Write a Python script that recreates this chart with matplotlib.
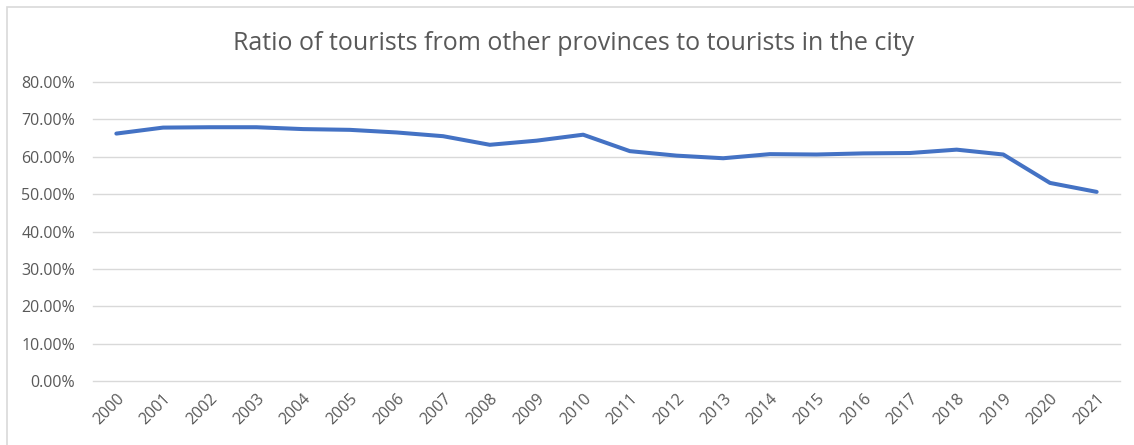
import matplotlib.pyplot as plt
from matplotlib.patches import Rectangle
from matplotlib.ticker import FuncFormatter

years = [str(y) for y in range(2000, 2022)]
ratio = [66.2, 67.8, 67.9, 67.9, 67.4, 67.2, 66.5, 65.5, 63.2, 64.3, 65.9,
         61.5, 60.3, 59.6, 60.7, 60.6, 60.9, 61.0, 61.9, 60.6, 53.0, 50.6]
y_ticks = [0, 10, 20, 30, 40, 50, 60, 70, 80]

W, H = 1134, 445
fig = plt.figure(figsize=(W / 100, H / 100), dpi=100)
fig.patch.set_facecolor('white')

# outer chart border (only top and left visible in the crop)
fig.patches.append(Rectangle((7 / W, -0.1), 1.2, (H - 6.5) / H + 0.1,
                             transform=fig.transFigure, fill=False,
                             edgecolor='#D9D9D9', linewidth=1.2))

ax = fig.add_axes([93 / W, (H - 381) / H, (1120 - 93) / W, (381 - 82) / H])
x = list(range(len(years)))
ax.plot(x, ratio, color='#4472C4', linewidth=2.9, solid_capstyle='round',
        solid_joinstyle='round', zorder=3)

ax.set_xlim(-0.5, len(years) - 0.5)
ax.set_ylim(0, 80)
ax.set_yticks(y_ticks)
ax.yaxis.set_major_formatter(FuncFormatter(lambda v, p: f'{v:.2f}%'))
ax.set_xticks(x)
ax.set_xticklabels(years, rotation=45, ha='right', rotation_mode='anchor')
ax.grid(axis='y', color='#D9D9D9', linewidth=1)
for gl in ax.get_ygridlines():
    gl.set_clip_on(False)
ax.set_axisbelow(True)
for s in ax.spines.values():
    s.set_visible(False)
ax.tick_params(length=0, colors='#595959', labelsize=11.5)
ax.tick_params(axis='y', pad=13)
ax.tick_params(axis='x', pad=7)
for lbl in ax.get_xticklabels() + ax.get_yticklabels():
    lbl.set_fontfamily('Open Sans')

fig.text(574 / W, (H - 43) / H,
         'Ratio of tourists from other provinces to tourists in the city',
         ha='center', va='center', fontsize=18, color='#595959',
         fontfamily='Open Sans')

fig.savefig('out.png', dpi=100, facecolor='white')
